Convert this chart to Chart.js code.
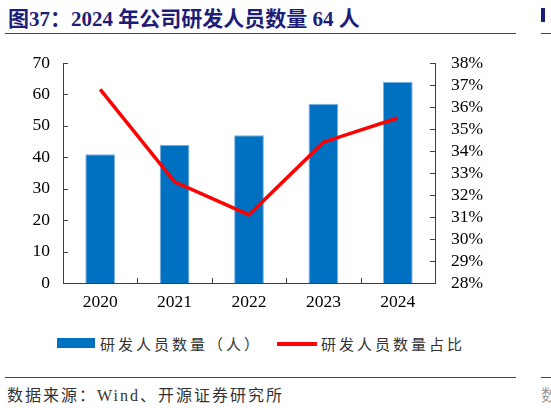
<!DOCTYPE html>
<html>
<head>
<meta charset="utf-8">
<script src="https://cdn.jsdelivr.net/npm/chart.js@4"></script>
<style>
  html, body { margin: 0; padding: 0; background: #fff; overflow: hidden; }
  body { width: 551px; height: 408px; position: relative; }
  #wrap { position: absolute; left: 0; top: 0; width: 551px; height: 330px; }
  .abs { position: absolute; white-space: nowrap; }
  .title { left: 8px; top: 2px; font: bold 21px "Liberation Serif", "Noto Sans CJK SC"; color: #1e1e78; }
  .rule { height: 1px; background: #444; }
  .legend-text { font: 15px "Liberation Serif", "Noto Sans CJK SC"; color: #333; letter-spacing: 3px; }
  .source { left: 7px; top: 382px; font: 16px "Liberation Serif", "Noto Sans CJK SC"; color: #333; letter-spacing: 2px; }
</style>
</head>
<body>
<div class="abs title">图37：2024 年公司研发人员数量 64 人</div>
<div class="abs rule" style="left:5px; top:33px; width:511px;"></div>
<div class="abs" style="left:541px; top:8px; width:4px; height:14px; background:#1e1e78;"></div>
<div class="abs rule" style="left:541px; top:33px; width:10px;"></div>

<div id="wrap"><canvas id="grafica"></canvas></div>
<div id="leyenda"></div>

<div class="abs rule" style="left:5px; top:377px; width:511px;"></div>
<div class="abs rule" style="left:541px; top:377px; width:10px;"></div>
<div class="abs source">数据来源：Wind、开源证券研究所</div>
<div class="abs source" style="left:541px; color:#999;">数</div>

<script>
// datos del grafico
const years = ['2020', '2021', '2022', '2023', '2024'];
const staffCount = [41, 44, 47, 57, 64];          // 研发人员数量（人）
const staffShare = [36.8, 32.6, 31.1, 34.4, 35.5]; // 研发人员数量占比 (%)
const countTicks = [0, 10, 20, 30, 40, 50, 60, 70];
const shareTicks = [28, 29, 30, 31, 32, 33, 34, 35, 36, 37, 38];

const tickFont = { family: 'Liberation Serif', size: 17.5 };

// marcas de eje hacia dentro
const innerTicks = {
    id: 'innerTicks',
    afterDatasetsDraw(chart) {
        const ctx = chart.ctx;
        const a = chart.chartArea;
        const x = chart.scales.x, yl = chart.scales.y, yr = chart.scales.y1;
        ctx.save();
        ctx.strokeStyle = '#404040';
        ctx.lineWidth = 1;
        ctx.beginPath();
        yl.ticks.forEach(t => {
            const p = Math.round(yl.getPixelForValue(t.value)) + 0.5;
            ctx.moveTo(a.left, p); ctx.lineTo(a.left + 5, p);
        });
        yr.ticks.forEach(t => {
            const p = Math.round(yr.getPixelForValue(t.value)) + 0.5;
            ctx.moveTo(a.right, p); ctx.lineTo(a.right - 5, p);
        });
        for (let i = 1; i < years.length; i++) {
            const p = Math.round((x.getPixelForValue(i - 1) + x.getPixelForValue(i)) / 2) + 0.5;
            ctx.moveTo(p, a.bottom); ctx.lineTo(p, a.bottom - 5);
        }
        ctx.stroke();
        ctx.restore();
    }
};

const ctx = document.getElementById('grafica').getContext('2d');
const myChart = new Chart(ctx, {
    data: {
        labels: years,
        datasets: [{
            type: 'line',
            label: '研发人员数量占比',
            data: staffShare,
            yAxisID: 'y1',
            borderColor: '#ff0000',
            backgroundColor: '#ff0000',
            borderWidth: 3.5,
            pointRadius: 0,
            tension: 0,
            order: 0
        }, {
            type: 'bar',
            label: '研发人员数量（人）',
            data: staffCount,
            yAxisID: 'y',
            backgroundColor: '#0070c0',
            borderColor: '#7fb1e0',
            borderWidth: 1,
            categoryPercentage: 1,
            barPercentage: 0.4,
            order: 1
        }]
    },
    options: {
        responsive: true,
        maintainAspectRatio: false,
        animation: false,
        layout: { padding: { top: 63, left: 0, right: 0, bottom: 0 } },
        plugins: {
            legend: { display: false },
            tooltip: { enabled: false }
        },
        scales: {
            x: {
                grid: { display: false, drawTicks: false },
                border: { display: true, color: '#404040', width: 1 },
                ticks: { color: '#000', font: tickFont, padding: 9 },
                afterFit(s) { s.height = 330 - 283; }
            },
            y: {
                position: 'left',
                min: countTicks[0],
                max: countTicks[countTicks.length - 1],
                grid: { display: false, drawTicks: false },
                border: { display: true, color: '#404040', width: 1 },
                ticks: { stepSize: 10, autoSkip: false, color: '#000', font: tickFont, padding: 13 },
                afterFit(s) { s.width = 63; }
            },
            y1: {
                position: 'right',
                min: shareTicks[0],
                max: shareTicks[shareTicks.length - 1],
                grid: { display: false, drawTicks: false },
                border: { display: true, color: '#404040', width: 1 },
                ticks: {
                    stepSize: 1, autoSkip: false, color: '#000', font: tickFont, padding: 16,
                    callback: v => v + '%'
                },
                afterFit(s) { s.width = 551 - 435; }
            }
        }
    },
    plugins: [innerTicks]
});

// leyenda en html, a partir de los datasets
function leyenda() {
    const box = document.getElementById('leyenda');
    const bar = myChart.data.datasets[1], line = myChart.data.datasets[0];
    box.innerHTML =
        '<div class="abs" style="left:57px; top:338px; width:38px; height:10px; background:' + bar.backgroundColor + ';"></div>' +
        '<div class="abs legend-text" style="left:100px; top:333px;">' + bar.label + '</div>' +
        '<div class="abs" style="left:277px; top:342px; width:40px; height:4px; background:' + line.borderColor + ';"></div>' +
        '<div class="abs legend-text" style="left:321px; top:333px;">' + line.label + '</div>';
}
leyenda();
</script>
</body>
</html>
